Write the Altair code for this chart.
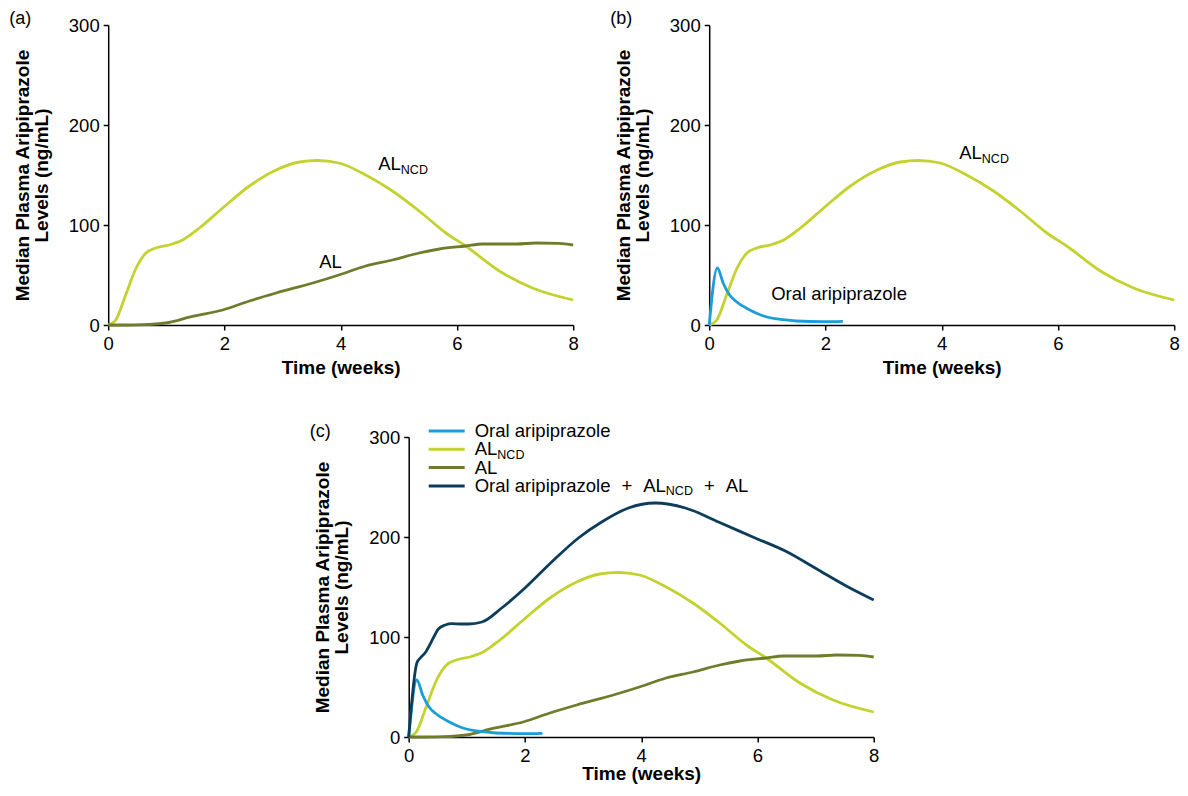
import altair as alt
import pandas as pd

FONT = "Liberation Sans"

# ---------------- data ----------------
weeks_ncd = [0, 0.06, 0.13, 0.30, 0.48, 0.65, 0.82, 1.05, 1.28, 1.57, 1.97, 2.43, 2.89,
             3.29, 3.60, 3.97, 4.43, 4.89, 5.35, 5.81, 6.15, 6.73, 7.30, 8.0]
ncd_levels = [0, 1.5, 5, 30, 57, 72, 77, 80, 85, 97, 117, 139, 155,
              163, 164.5, 162, 150, 134, 114, 92, 79, 54, 37, 25]

weeks_al = [0, 0.3, 0.59, 0.99, 1.45, 1.97, 2.43, 2.89, 3.52, 3.97, 4.43, 4.89,
            5.35, 5.70, 6.15, 6.44, 7.02, 7.36, 7.76, 8.0]
al_levels = [0, 0, 0.3, 2, 8.7, 15, 24, 32, 42, 50, 59, 65,
             72, 76, 79, 81, 81, 82, 81.7, 80]

weeks_oral = [0, 0.14, 0.24, 0.35, 0.46, 0.69, 0.92, 1.27, 1.5, 1.96, 2.30]
oral_levels = [0, 57, 42, 30, 23.7, 15.3, 9.3, 5.3, 4, 3.4, 3.7]

weeks_total = [0, 0.14, 0.2, 0.28, 0.45, 0.51, 0.63, 0.74, 0.9, 1.03, 1.26, 1.60, 2.0,
               2.46, 2.92, 3.32, 3.78, 4.24, 4.76, 5.33, 5.96, 6.48, 7.05, 7.56, 8.0]
total_levels = [0, 74, 79, 84, 102, 108, 112, 113.3, 113, 113, 115, 129, 149,
                175, 199, 215, 229, 234, 229, 215, 199, 186, 167, 150, 137]

# label pieces: (text, is_subscript)
lbl_oral = [("Oral aripiprazole", False)]
lbl_ncd = [("AL", False), ("NCD", True)]
lbl_al = [("AL", False)]
lbl_total = [("Oral aripiprazole", False), ("+", False), ("AL", False), ("NCD", True),
             ("+", False), ("AL", False)]
panel_labels = ["(a)", "(b)", "(c)"]
x_ticks = [0, 2, 4, 6, 8]
y_ticks = [0, 100, 200, 300]
x_title = "Time (weeks)"
y_title = ["Median Plasma Aripiprazole", "Levels (ng/mL)"]

C_ORAL = "#1b9dd8"
C_NCD = "#c3d22f"
C_AL = "#6f7c2c"
C_TOT = "#0c3d5a"

W, H = 465, 300
LABEL_SIZE = 18.5
SUB_SIZE = 12.5

# Arial / Liberation Sans advance widths (per 1000 em)
_W = {"O": 778, "r": 333, "a": 556, "l": 222, " ": 278, "i": 222, "p": 556, "z": 500,
      "o": 556, "e": 556, "+": 584, "A": 667, "L": 556, "N": 722, "C": 722, "D": 722}


def text_width(s, size):
    return sum(_W.get(ch, 556) for ch in s) * size / 1000.0


def x_enc(title_pad):
    return alt.X("week:Q", scale=alt.Scale(domain=[0, 8], nice=False),
                 axis=alt.Axis(values=x_ticks, title=x_title, labelFlush=False,
                               titlePadding=title_pad))


y_enc = alt.Y("level:Q", scale=alt.Scale(domain=[0, 300], nice=False),
              axis=alt.Axis(values=y_ticks, title=y_title))


def line(weeks, levels, color, title_pad=6):
    df = pd.DataFrame({"week": weeks, "level": levels})
    return alt.Chart(df).mark_line(color=color, strokeWidth=2.8,
                                   interpolate="monotone").encode(x=x_enc(title_pad), y=y_enc)


def txt(s, x, y, size=LABEL_SIZE, baseline="alphabetic"):
    return alt.Chart(pd.DataFrame({"t": [s]})).mark_text(
        align="left", baseline=baseline, font=FONT, fontSize=size, color="black"
    ).encode(text="t:N", x=alt.value(x), y=alt.value(y))


def composed(pieces, x, y, gap=11):
    layers = []
    cx = x
    for i, (p, sub) in enumerate(pieces):
        if sub:
            layers.append(txt(p, cx, y + 3.5, SUB_SIZE))
            cx += text_width(p, SUB_SIZE)
        else:
            if i > 0:
                cx += gap
            layers.append(txt(p, cx, y))
            cx += text_width(p, LABEL_SIZE)
    return layers


def rule(color, y):
    return alt.Chart(pd.DataFrame({"s": [color]})).mark_rule(
        color=color, strokeWidth=3
    ).encode(x=alt.value(20), x2=alt.value(56), y=alt.value(y))


panel_a = alt.layer(
    line(weeks_ncd, ncd_levels, C_NCD),
    line(weeks_al, al_levels, C_AL),
    *composed(lbl_ncd, 270, 145),
    *composed(lbl_al, 211, 243),
    txt(panel_labels[0], -99, -6, 18, "middle"),
).properties(width=W, height=H)

panel_b = alt.layer(
    line(weeks_ncd, ncd_levels, C_NCD),
    line(weeks_oral, oral_levels, C_ORAL),
    *composed(lbl_ncd, 250, 134),
    *composed(lbl_oral, 62, 275),
    txt(panel_labels[1], -99, -6, 18, "middle"),
).properties(width=W, height=H)

rows = [-6, 12.3, 30.6, 48.9]
legend_items = [(lbl_oral, C_ORAL), (lbl_ncd, C_NCD), (lbl_al, C_AL), (lbl_total, C_TOT)]
legend_layers = []
for (lab, col), ry in zip(legend_items, rows):
    legend_layers.append(rule(col, ry))
    legend_layers.extend(composed(lab, 66, ry + 6))

panel_c = alt.layer(
    line(weeks_ncd, ncd_levels, C_NCD, 0),
    line(weeks_al, al_levels, C_AL, 0),
    line(weeks_oral, oral_levels, C_ORAL, 0),
    line(weeks_total, total_levels, C_TOT, 0),
    *legend_layers,
    txt(panel_labels[2], -99, -5, 18, "middle"),
).properties(width=W, height=H)

top = alt.hconcat(panel_a, panel_b, spacing=31)
chart = alt.vconcat(top, panel_c, spacing=44, center=True).properties(
    padding={"left": 1, "top": 2, "right": 0, "bottom": 0}
).configure_view(stroke=None).configure_axis(
    grid=False,
    domainColor="black", domainWidth=1.5,
    tickColor="black", tickWidth=1.5, tickSize=5,
    labelFont=FONT, labelFontSize=18.5, labelColor="black", labelPadding=4,
    titleFont=FONT, titleFontSize=19, titleFontWeight="bold", titleColor="black",
).configure_axisY(titlePadding=17, titleLineHeight=19)

chart.save("out.html", embed_options={"renderer": "svg", "actions": False})
